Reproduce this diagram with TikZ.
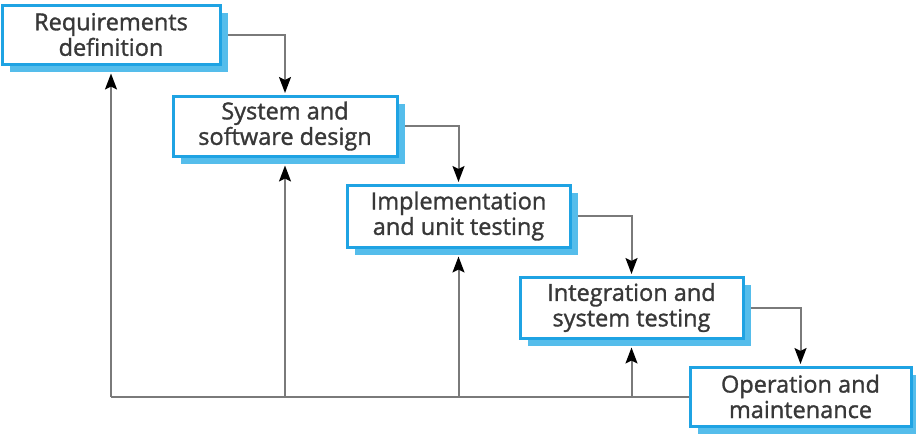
\documentclass[tikz,border=0pt]{standalone}
\usepackage{fontspec}
\setmainfont{Open Sans}
\newfontfamily\boxfont{Open Sans}[FakeBold=1.3]
\usetikzlibrary{arrows.meta,shadows}
\definecolor{boxline}{HTML}{1FA3E3}
\definecolor{boxshade}{HTML}{55BDEB}
\definecolor{txt}{HTML}{383838}
\definecolor{conn}{HTML}{7A7A7A}
\pgfdeclarelayer{bg}
\pgfsetlayers{bg,main}
\tikzset{
  stagebox/.style={draw=boxline, line width=3pt, fill=white, text=txt,
    align=center, inner sep=0pt,
    font=\boxfont\fontsize{23.5}{25.5}\selectfont,
    copy shadow={shadow xshift=8pt, shadow yshift=-8pt, fill=boxshade, draw=none}},
  link/.style={draw=conn, line width=2pt,
    -{Stealth[length=16pt,width=12pt,inset=3pt,color=black,fill=black]}},
  plainlink/.style={draw=conn, line width=2pt}
}
\begin{document}
\begin{tikzpicture}[x=1pt,y=-1pt]
\useasboundingbox (0,0) rectangle (916,437);
\node[stagebox, minimum width=218pt, minimum height=59pt] (b1) at (111,34.5) {Requirements\\definition};
\node[stagebox, minimum width=224pt, minimum height=60pt] (b2) at (285,126) {System and\\software design};
\node[stagebox, minimum width=223pt, minimum height=62pt] (b3) at (458.5,216) {Implementation\\and unit testing};
\node[stagebox, minimum width=223pt, minimum height=61pt] (b4) at (631.5,307.5) {Integration and\\system testing};
\node[stagebox, minimum width=221pt, minimum height=59pt] (b5) at (800.5,396.5) {Operation and\\maintenance};
\begin{pgfonlayer}{bg}
\draw[link] (b1.east) -| ([yshift=1.5pt]b2.north);
\draw[link] (b2.east) -| ([yshift=1.5pt]b3.north);
\draw[link] (b3.east) -| ([yshift=1.5pt]b4.north);
\draw[link] (b4.east) -| ([yshift=1.5pt]b5.north);
\coordinate (c1) at (b1.south |- b5.west);
\coordinate (c2) at (b2.south |- b5.west);
\coordinate (c3) at (b3.south |- b5.west);
\coordinate (c4) at (b4.south |- b5.west);
\draw[plainlink] (b5.west) -- (c1);
\draw[link] (c1) -- ([yshift=-8pt]b1.south);
\draw[link] (c2) -- ([yshift=-8pt]b2.south);
\draw[link] (c3) -- ([yshift=-8pt]b3.south);
\draw[link] (c4) -- ([yshift=-8pt]b4.south);
\end{pgfonlayer}
\end{tikzpicture}
\end{document}
